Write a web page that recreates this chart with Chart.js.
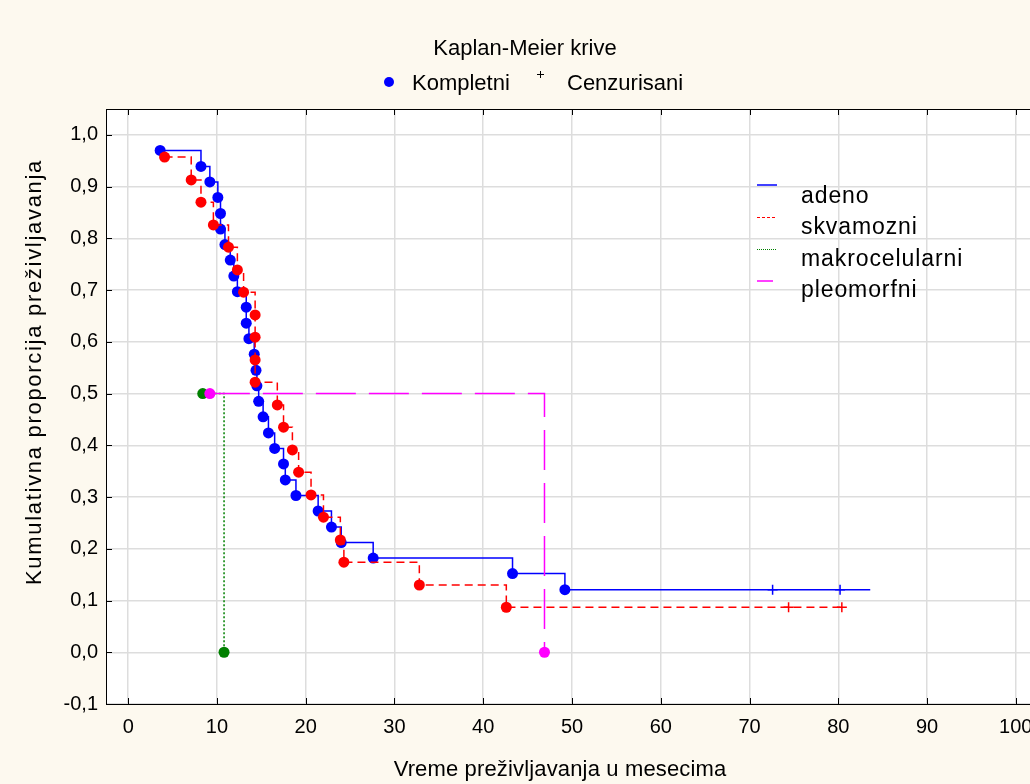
<!DOCTYPE html>
<html>
<head>
<meta charset="utf-8">
<style>
    html, body {
        margin: 0;
        padding: 0;
        overflow: hidden;
        background: #fdf9ef;
    }
</style>
</head>
<body>
<canvas id="km-chart" width="1060" height="784"></canvas>

<script src="https://cdn.jsdelivr.net/npm/chart.js@4.4.1/dist/chart.umd.min.js"></script>
<script>
    // Kaplan-Meier data (time in months, cumulative survival)
    const adenoTime = [3.6, 8.2, 9.2, 10.1, 10.4, 10.4, 10.9, 11.5, 11.9, 12.3, 13.3, 13.3, 13.6, 14.2, 14.4,
        14.5, 14.7, 15.2, 15.8, 16.5, 17.5, 17.7, 18.9, 21.4, 22.9, 24.0, 27.6, 43.3, 49.2];
    const adenoSurv = [0.970, 0.939, 0.909, 0.879, 0.848, 0.818, 0.788, 0.758, 0.727, 0.697, 0.667, 0.636, 0.606, 0.576, 0.545,
        0.515, 0.485, 0.455, 0.424, 0.394, 0.364, 0.333, 0.303, 0.273, 0.242, 0.212, 0.182, 0.152, 0.121];
    const adenoCensored = [72.6, 80.2];
    const adenoEnd = 83.6;

    const skvamTime = [4.1, 7.1, 8.2, 9.6, 11.3, 12.3, 13.0, 14.3, 14.3, 14.3, 14.3, 16.8, 17.5, 18.5, 19.2,
        20.6, 22.0, 23.9, 24.3, 32.8, 42.6];
    const skvamSurv = [0.957, 0.913, 0.870, 0.826, 0.783, 0.739, 0.696, 0.652, 0.609, 0.565, 0.522, 0.478, 0.435, 0.391, 0.348,
        0.304, 0.261, 0.217, 0.174, 0.130, 0.087];
    const skvamCensored = [74.4, 80.4];
    const skvamEnd = 80.4;

    const makroTime = [8.4, 10.8];
    const makroSurv = [0.5, 0.0];

    const pleoTime = [9.2, 46.9];
    const pleoSurv = [0.5, 0.0];

    const groupNames = ['adeno', 'skvamozni', 'makrocelularni', 'pleomorfni'];
    const groupColors = ['#0000ff', '#ff0000', '#008000', '#ff00ff'];
    const groupDash = [[], [8, 5], [2, 2], [40, 13]];

    const xTicks = [0, 10, 20, 30, 40, 50, 60, 70, 80, 90, 100];
    const yTicks = [-0.1, 0.0, 0.1, 0.2, 0.3, 0.4, 0.5, 0.6, 0.7, 0.8, 0.9, 1.0];

    const FONT = '"Liberation Sans", Arial, sans-serif';

    const curve = (times, surv, end) => {
        const pts = times.map((t, i) => ({x: t, y: surv[i]}));
        if (end !== undefined) pts.push({x: end, y: surv[surv.length - 1]});
        return pts;
    };

    const radii = (n, extra) => Array(n).fill(5.5).concat(Array(extra).fill(0));

    const lineSet = (idx, pts, nEvents, order) => ({
        label: groupNames[idx],
        data: pts,
        showLine: true,
        stepped: true,
        borderColor: groupColors[idx],
        borderWidth: 1.5,
        borderDash: groupDash[idx],
        pointRadius: radii(nEvents, pts.length - nEvents),
        pointBackgroundColor: groupColors[idx],
        pointBorderWidth: 0,
        order: order
    });

    const censSet = (idx, times, level, order) => ({
        label: groupNames[idx] + ' cenzurisani',
        data: times.map(t => ({x: t, y: level})),
        showLine: false,
        pointStyle: 'cross',
        pointRadius: 5,
        borderColor: groupColors[idx],
        pointBorderColor: groupColors[idx],
        pointBorderWidth: 1.5,
        order: order
    });

    const datasets = [
        lineSet(0, curve(adenoTime, adenoSurv, adenoEnd), adenoTime.length, 8),
        censSet(0, adenoCensored, adenoSurv[adenoSurv.length - 1], 7),
        lineSet(1, curve(skvamTime, skvamSurv, skvamEnd), skvamTime.length, 6),
        censSet(1, skvamCensored, skvamSurv[skvamSurv.length - 1], 5),
        lineSet(2, curve(makroTime, makroSurv), makroTime.length, 4),
        lineSet(3, curve(pleoTime, pleoSurv), pleoTime.length, 3)
    ];

    // white plot area on the cream page
    const plotBackground = {
        id: 'plotBackground',
        beforeDraw(chart) {
            const {ctx, chartArea: a} = chart;
            ctx.save();
            ctx.fillStyle = '#fdf9ef';
            ctx.fillRect(0, 0, chart.width, chart.height);
            ctx.fillStyle = '#ffffff';
            ctx.fillRect(a.left, a.top, a.right - a.left, a.bottom - a.top);
            ctx.restore();
        }
    };

    // black frame with short inner tick marks
    const plotFrame = {
        id: 'plotFrame',
        beforeDatasetsDraw(chart) {
            const {ctx, chartArea: a, scales} = chart;
            ctx.save();
            ctx.strokeStyle = '#000';
            ctx.lineWidth = 1;
            ctx.strokeRect(a.left + 0.5, a.top + 0.5, a.right - a.left, a.bottom - a.top);
            ctx.beginPath();
            scales.x.ticks.forEach(t => {
                const px = Math.round(scales.x.getPixelForValue(t.value)) + 0.5;
                ctx.moveTo(px, a.top); ctx.lineTo(px, a.top + 6);
                ctx.moveTo(px, a.bottom); ctx.lineTo(px, a.bottom - 6);
            });
            scales.y.ticks.forEach(t => {
                const py = Math.round(scales.y.getPixelForValue(t.value)) + 0.5;
                ctx.moveTo(a.left, py); ctx.lineTo(a.left + 6, py);
                ctx.moveTo(a.right, py); ctx.lineTo(a.right - 6, py);
            });
            ctx.stroke();
            ctx.restore();
        }
    };

    // titles and the two legends
    const chartTexts = {
        id: 'chartTexts',
        afterDraw(chart) {
            const ctx = chart.ctx;
            ctx.save();
            ctx.fillStyle = '#000';
            ctx.textBaseline = 'alphabetic';

            ctx.font = '22px ' + FONT;
            ctx.textAlign = 'center';
            ctx.fillText('Kaplan-Meier krive', 525, 55);

            // legend: complete / censored
            ctx.textAlign = 'left';
            ctx.fillStyle = '#0000ff';
            ctx.beginPath();
            ctx.arc(389, 82, 5, 0, Math.PI * 2);
            ctx.fill();
            ctx.fillStyle = '#000';
            ctx.fillText('Kompletni', 412, 90);
            ctx.strokeStyle = '#000';
            ctx.lineWidth = 1;
            ctx.beginPath();
            ctx.moveTo(537, 74.5); ctx.lineTo(544, 74.5);
            ctx.moveTo(540.5, 71); ctx.lineTo(540.5, 78);
            ctx.stroke();
            ctx.fillText('Cenzurisani', 567, 90);

            // axis titles
            ctx.textAlign = 'center';
            ctx.textBaseline = 'middle';
            ctx.letterSpacing = '0.15px';
            ctx.fillText('Vreme preživljavanja u mesecima', 560, 770);
            ctx.save();
            ctx.letterSpacing = '1.7px';
            ctx.translate(35, 372);
            ctx.rotate(-Math.PI / 2);
            ctx.fillText('Kumulativna proporcija preživljavanja', 0, 0);
            ctx.restore();

            // group legend inside the plot
            ctx.font = '23px ' + FONT;
            ctx.letterSpacing = '0.9px';
            ctx.textAlign = 'left';
            ctx.textBaseline = 'alphabetic';
            const sampleY = [185, 217.5, 249.5, 281];
            const textY = [203, 234, 266, 297];
            groupNames.forEach((name, i) => {
                ctx.strokeStyle = groupColors[i];
                ctx.lineWidth = i === 1 || i === 2 ? 1 : 1.5;
                ctx.setLineDash(i === 1 ? [3, 2] : i === 2 ? [1, 1] : []);
                ctx.beginPath();
                ctx.moveTo(757, sampleY[i]);
                ctx.lineTo(i === 3 ? 773 : 777, sampleY[i]);
                ctx.stroke();
                ctx.setLineDash([]);
                ctx.fillStyle = '#000';
                ctx.fillText(name, 801, textY[i]);
            });
            ctx.restore();
        }
    };

    const fmtY = (v) => (Math.abs(v) < 1e-9 ? 0 : v).toFixed(1).replace('.', ',');

    let km_ctx = document.getElementById('km-chart').getContext('2d');
    let km_chart = new Chart(km_ctx, {
        type: 'scatter',
        data: {datasets: datasets},
        plugins: [plotBackground, plotFrame, chartTexts],
        options: {
            responsive: false,
            animation: false,
            events: [],
            layout: {padding: {left: 0, top: 109, right: 22, bottom: 0}},
            plugins: {
                legend: {display: false},
                tooltip: {enabled: false}
            },
            scales: {
                x: {
                    type: 'linear',
                    min: -2.5,
                    max: 102.5,
                    afterFit: (scale) => { scale.height = 80; },
                    afterBuildTicks: (scale) => { scale.ticks = xTicks.map(v => ({value: v})); },
                    ticks: {
                        callback: (v) => String(Math.round(v)),
                        color: '#000',
                        padding: 11,
                        maxRotation: 0,
                        font: {family: FONT, size: 20}
                    },
                    grid: {color: '#dddddd', lineWidth: 1.5, drawTicks: false},
                    border: {display: false}
                },
                y: {
                    type: 'linear',
                    min: -0.1,
                    max: 1.05,
                    afterFit: (scale) => { scale.width = 106; },
                    afterBuildTicks: (scale) => { scale.ticks = yTicks.map(v => ({value: v})); },
                    ticks: {
                        callback: fmtY,
                        color: '#000',
                        padding: 8,
                        font: {family: FONT, size: 20}
                    },
                    grid: {color: '#dddddd', lineWidth: 1.5, drawTicks: false},
                    border: {display: false}
                }
            }
        }
    });
</script>
</body>
</html>
